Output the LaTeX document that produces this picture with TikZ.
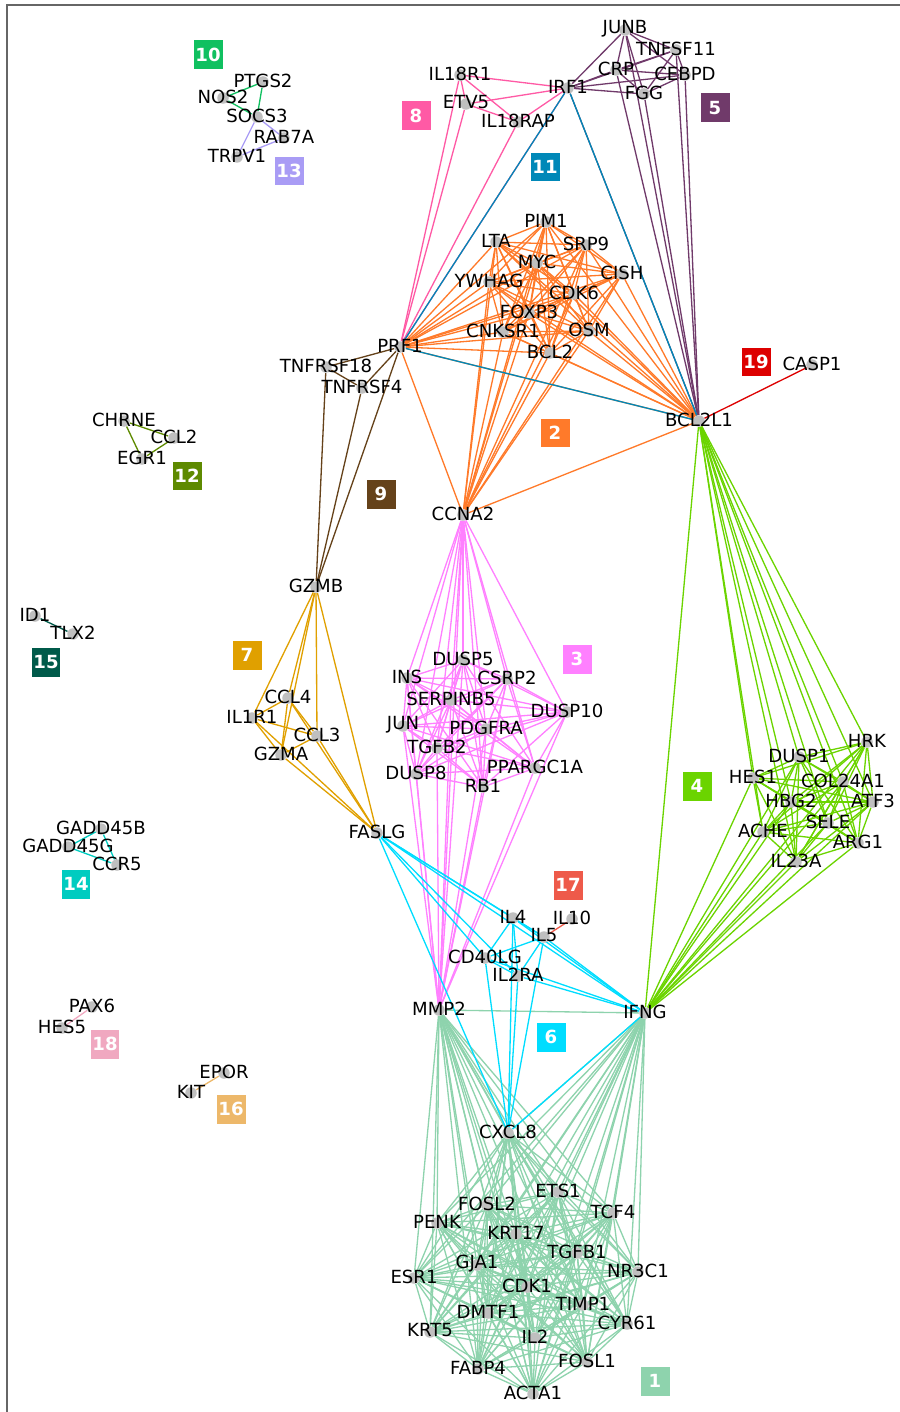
\documentclass[tikz,border=0pt]{standalone}
\usepackage{fontspec}
\setmainfont{DejaVu Sans}
\usetikzlibrary{backgrounds}
\definecolor{c1}{HTML}{8ED3AD}
\definecolor{c2}{HTML}{FF7A2A}
\definecolor{c3}{HTML}{FF80FF}
\definecolor{c4}{HTML}{6BD400}
\definecolor{c5}{HTML}{703A6A}
\definecolor{c6}{HTML}{00DDFF}
\definecolor{c7}{HTML}{E0A000}
\definecolor{c8}{HTML}{FF5AA5}
\definecolor{c9}{HTML}{65421A}
\definecolor{c10}{HTML}{10C060}
\definecolor{c11}{HTML}{0088B8}
\definecolor{c12}{HTML}{5E8A00}
\definecolor{c13}{HTML}{A99CF5}
\definecolor{c14}{HTML}{00CCC0}
\definecolor{c15}{HTML}{005A4A}
\definecolor{c16}{HTML}{EDB86A}
\definecolor{c17}{HTML}{EE5A4A}
\definecolor{c18}{HTML}{F0A8C0}
\definecolor{c19}{HTML}{DD0000}
\newcommand{\linkall}[2]{%
  \foreach \a [count=\i] in {#2} {%
    \foreach \b [count=\j] in {#2} {%
      \ifnum\j>\i \draw[link,#1] (\a) -- (\b);\fi
    }%
  }%
}

\begin{document}
\begin{tikzpicture}[x=0.02cm,y=-0.02cm,
  genetext/.style={font=\fontsize{10.3}{12}\selectfont,inner sep=0pt,yshift=0.9pt},
  gene/.style={circle,fill=black!25,minimum size=2.3mm,inner sep=0pt,label={[genetext]center:#1}},
  tag/.style={fill=#1,text=white,minimum size=0.58cm,inner sep=0pt,font=\bfseries\fontsize{10.3}{12}\selectfont},
  link/.style={line width=0.75pt}]
\useasboundingbox (0,0) rectangle (899,1412);
\draw[black!60,line width=0.8pt] (7,5) rectangle (910,1420);

% cluster 5 / 8 / 11 (top)
\node[gene=JUNB] (JUNB) at (625,30) {};
\node[gene=TNFSF11] (TNFSF11) at (676,50) {};
\node[gene=CRP] (CRP) at (616,70) {};
\node[gene=CEBPD] (CEBPD) at (685,75) {};
\node[gene=IRF1] (IRF1) at (568,88) {};
\node[gene=FGG] (FGG) at (644,94) {};
\node[gene=IL18R1] (IL18R1) at (460,75) {};
\node[gene=ETV5] (ETV5) at (466,104) {};
\node[gene=IL18RAP] (IL18RAP) at (518,122) {};

% cluster 2
\node[gene=PIM1] (PIM1) at (546,222) {};
\node[gene=LTA] (LTA) at (496,242) {};
\node[gene=SRP9] (SRP9) at (586,245) {};
\node[gene=MYC] (MYC) at (537,263) {};
\node[gene=YWHAG] (YWHAG) at (489,282) {};
\node[gene=CISH] (CISH) at (622,274) {};
\node[gene=CDK6] (CDK6) at (574,294) {};
\node[gene=FOXP3] (FOXP3) at (529,313) {};
\node[gene=CNKSR1] (CNKSR1) at (503,332) {};
\node[gene=OSM] (OSM) at (589,331) {};
\node[gene=BCL2] (BCL2) at (550,353) {};
\node[gene=PRF1] (PRF1) at (400,347) {};
\node[gene=BCL2L1] (BCL2L1) at (699,421) {};
\node[gene=CASP1] (CASP1) at (812,365) {};
\node[gene=CCNA2] (CCNA2) at (463,515) {};

% cluster 9 / 7
\node[gene=TNFRSF18] (TNFRSF18) at (326,367) {};
\node[gene=TNFRSF4] (TNFRSF4) at (362,388) {};
\node[gene=GZMB] (GZMB) at (316,587) {};
\node[gene=CCL4] (CCL4) at (288,698) {};
\node[gene=IL1R1] (IL1R1) at (252,718) {};
\node[gene=CCL3] (CCL3) at (317,736) {};
\node[gene=GZMA] (GZMA) at (281,755) {};
\node[gene=FASLG] (FASLG) at (377,833) {};

% cluster 3
\node[gene=DUSP5] (DUSP5) at (463,660) {};
\node[gene=INS] (INS) at (407,678) {};
\node[gene=CSRP2] (CSRP2) at (507,679) {};
\node[gene=SERPINB5] (SERPINB5) at (451,700) {};
\node[gene=DUSP10] (DUSP10) at (567,712) {};
\node[gene=JUN] (JUN) at (403,726) {};
\node[gene=PDGFRA] (PDGFRA) at (486,729) {};
\node[gene=TGFB2] (TGFB2) at (437,748) {};
\node[gene=DUSP8] (DUSP8) at (416,774) {};
\node[gene=PPARGC1A] (PPARGC1A) at (535,768) {};
\node[gene=RB1] (RB1) at (483,787) {};

% cluster 4
\node[gene=HRK] (HRK) at (867,742) {};
\node[gene=DUSP1] (DUSP1) at (799,757) {};
\node[gene=HES1] (HES1) at (753,778) {};
\node[gene=COL24A1] (COL24A1) at (843,782) {};
\node[gene=HBG2] (HBG2) at (791,802) {};
\node[gene=ATF3] (ATF3) at (873,802) {};
\node[gene=SELE] (SELE) at (828,823) {};
\node[gene=ACHE] (ACHE) at (763,832) {};
\node[gene=ARG1] (ARG1) at (858,843) {};
\node[gene=IL23A] (IL23A) at (796,862) {};

% cluster 6 / 17
\node[gene=IL4] (IL4) at (513,918) {};
\node[gene=IL10] (IL10) at (572,919) {};
\node[gene=IL5] (IL5) at (544,937) {};
\node[gene=CD40LG] (CD40LG) at (485,958) {};
\node[gene=IL2RA] (IL2RA) at (518,976) {};
\node[gene=MMP2] (MMP2) at (439,1010) {};
\node[gene=IFNG] (IFNG) at (645,1013) {};
\node[gene=CXCL8] (CXCL8) at (508,1133) {};

% cluster 1
\node[gene=ETS1] (ETS1) at (558,1192) {};
\node[gene=FOSL2] (FOSL2) at (487,1205) {};
\node[gene=TCF4] (TCF4) at (613,1213) {};
\node[gene=PENK] (PENK) at (437,1223) {};
\node[gene=KRT17] (KRT17) at (516,1234) {};
\node[gene=TGFB1] (TGFB1) at (577,1253) {};
\node[gene=GJA1] (GJA1) at (477,1265) {};
\node[gene=ESR1] (ESR1) at (414,1278) {};
\node[gene=NR3C1] (NR3C1) at (638,1272) {};
\node[gene=CDK1] (CDK1) at (527,1287) {};
\node[gene=TIMP1] (TIMP1) at (583,1305) {};
\node[gene=DMTF1] (DMTF1) at (488,1313) {};
\node[gene=CYR61] (CYR61) at (627,1324) {};
\node[gene=KRT5] (KRT5) at (430,1332) {};
\node[gene=IL2] (IL2) at (535,1338) {};
\node[gene=FOSL1] (FOSL1) at (587,1362) {};
\node[gene=FABP4] (FABP4) at (478,1369) {};
\node[gene=ACTA1] (ACTA1) at (533,1394) {};

% small clusters
\node[gene=PTGS2] (PTGS2) at (263,82) {};
\node[gene=NOS2] (NOS2) at (223,98) {};
\node[gene=SOCS3] (SOCS3) at (257,117) {};
\node[gene=RAB7A] (RAB7A) at (284,138) {};
\node[gene=TRPV1] (TRPV1) at (237,157) {};
\node[gene=CHRNE] (CHRNE) at (124,421) {};
\node[gene=CCL2] (CCL2) at (174,438) {};
\node[gene=EGR1] (EGR1) at (142,459) {};
\node[gene=ID1] (ID1) at (35,616) {};
\node[gene=TLX2] (TLX2) at (73,634) {};
\node[gene=GADD45B] (GADD45B) at (101,829) {};
\node[gene=GADD45G] (GADD45G) at (68,847) {};
\node[gene=CCR5] (CCR5) at (117,865) {};
\node[gene=PAX6] (PAX6) at (92,1007) {};
\node[gene=HES5] (HES5) at (62,1028) {};
\node[gene=EPOR] (EPOR) at (224,1073) {};
\node[gene=KIT] (KIT) at (191,1093) {};

% cluster tags
\node[tag=c1] (t1) at (655,1381) {1};
\node[tag=c2] (t2) at (555,433) {2};
\node[tag=c3] (t3) at (577,659) {3};
\node[tag=c4] (t4) at (697,786) {4};
\node[tag=c5] (t5) at (715,108) {5};
\node[tag=c6] (t6) at (551,1037) {6};
\node[tag=c7] (t7) at (247,655) {7};
\node[tag=c8] (t8) at (416,116) {8};
\node[tag=c9] (t9) at (381,494) {9};
\node[tag=c10] (t10) at (208,55) {10};
\node[tag=c11] (t11) at (545,167) {11};
\node[tag=c12] (t12) at (187,476) {12};
\node[tag=c13] (t13) at (289,171) {13};
\node[tag=c14] (t14) at (76,884) {14};
\node[tag=c15] (t15) at (46,662) {15};
\node[tag=c16] (t16) at (231,1109) {16};
\node[tag=c17] (t17) at (568,885) {17};
\node[tag=c18] (t18) at (105,1044) {18};
\node[tag=c19] (t19) at (756,362) {19};

\begin{scope}[on background layer]
\linkall{c1}{MMP2,IFNG,CXCL8,ETS1,FOSL2,TCF4,PENK,KRT17,TGFB1,GJA1,ESR1,NR3C1,CDK1,TIMP1,DMTF1,CYR61,KRT5,IL2,FOSL1,FABP4,ACTA1}
\linkall{c3}{CCNA2,DUSP5,INS,CSRP2,SERPINB5,DUSP10,JUN,PDGFRA,TGFB2,DUSP8,PPARGC1A,RB1,MMP2}
\linkall{c4}{BCL2L1,IFNG,HRK,DUSP1,HES1,COL24A1,HBG2,ATF3,SELE,ACHE,ARG1,IL23A}
\linkall{c2}{PRF1,PIM1,LTA,SRP9,MYC,YWHAG,CISH,CDK6,FOXP3,CNKSR1,OSM,BCL2,BCL2L1,CCNA2}
\linkall{c6}{FASLG,IL4,IL5,CD40LG,IL2RA,IFNG,CXCL8}
\linkall{c5}{IRF1,JUNB,TNFSF11,CRP,CEBPD,FGG,BCL2L1}
\linkall{c8}{IL18R1,ETV5,IL18RAP,IRF1,PRF1}
\linkall{c7}{GZMB,CCL4,IL1R1,CCL3,GZMA,FASLG}
\linkall{c9}{PRF1,TNFRSF18,TNFRSF4,GZMB}
\linkall{c11}{PRF1,IRF1,BCL2L1}
\linkall{c10}{NOS2,PTGS2,SOCS3}
\linkall{c13}{SOCS3,RAB7A,TRPV1}
\linkall{c12}{CHRNE,CCL2,EGR1}
\linkall{c14}{GADD45B,GADD45G,CCR5}
\draw[link,c15] (ID1) -- (TLX2);
\draw[link,c16] (EPOR) -- (KIT);
\draw[link,c17] (IL5) -- (IL10);
\draw[link,c18] (PAX6) -- (HES5);
\draw[link,c19] (BCL2L1) -- (CASP1);
\end{scope}
\end{tikzpicture}
\end{document}
